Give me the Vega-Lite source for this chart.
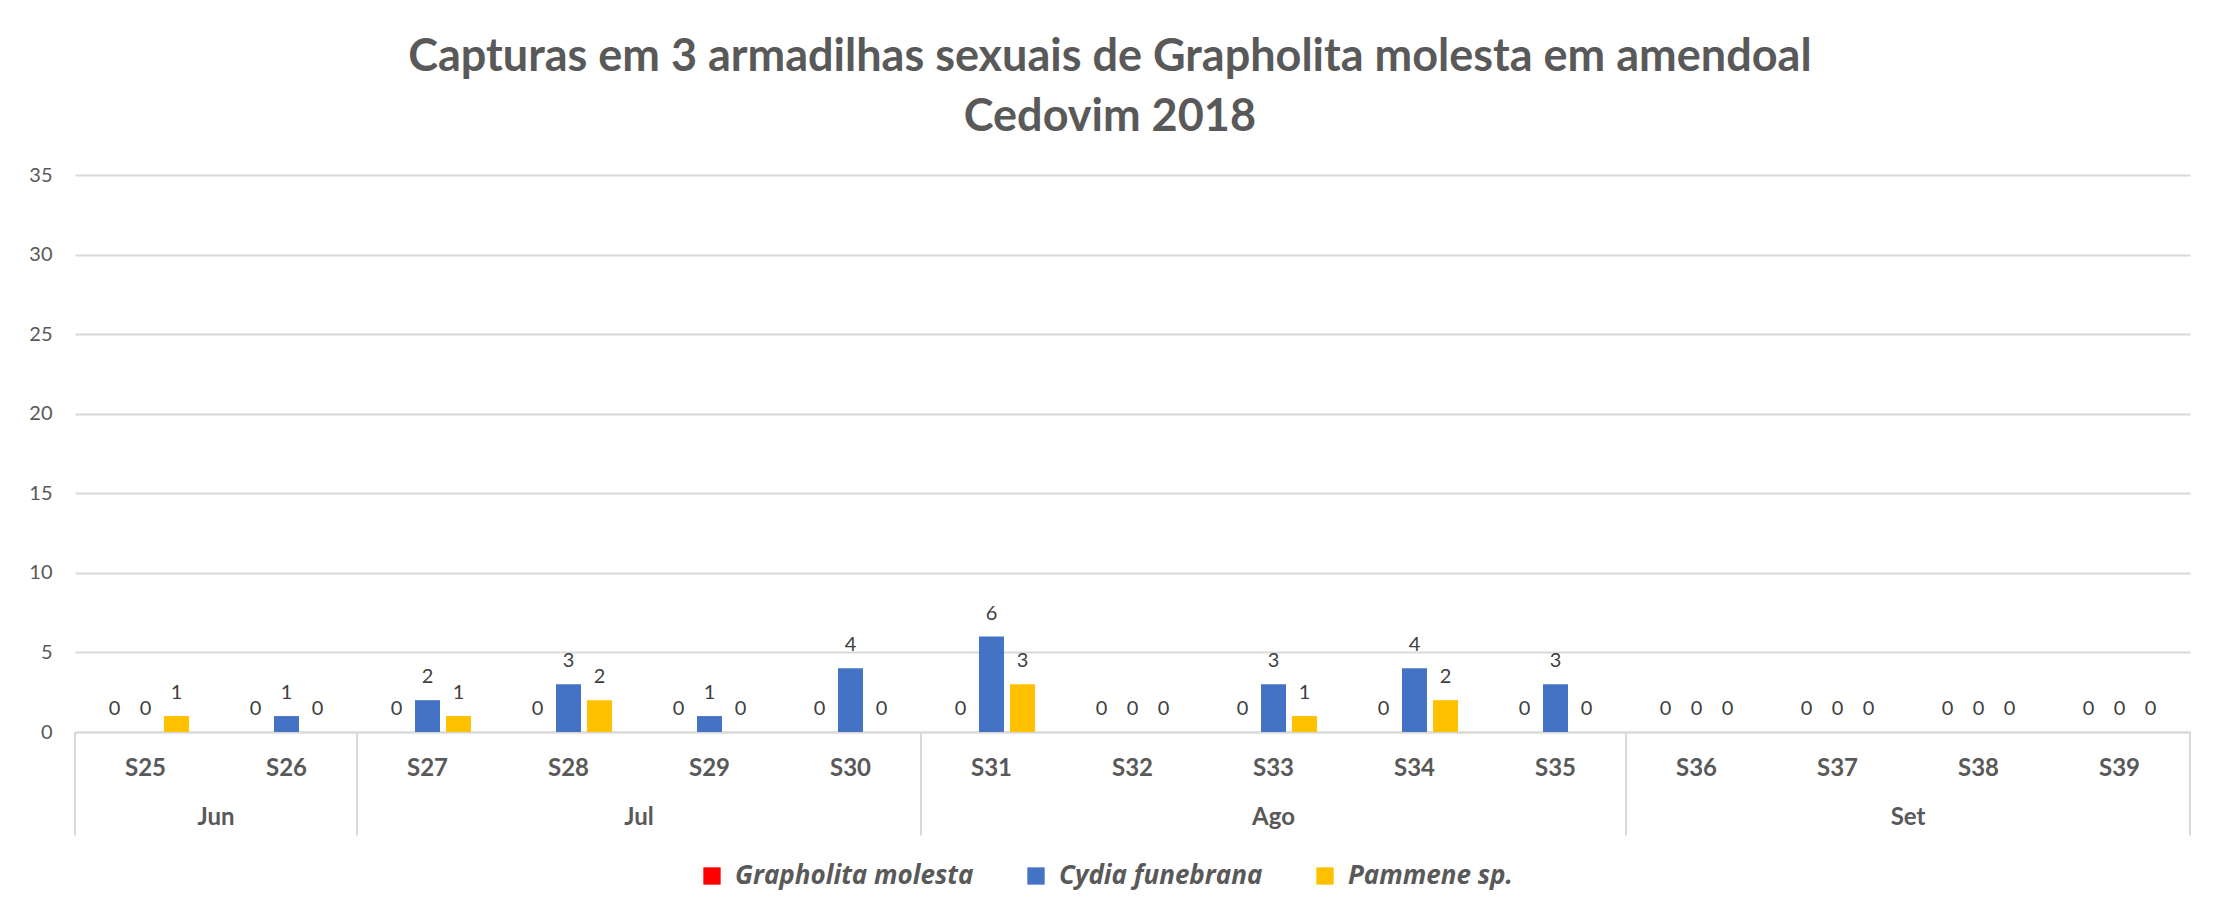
{
  "$schema": "https://vega.github.io/schema/vega-lite/v6.json",
  "autosize": {"type": "none"},
  "width": 2115,
  "height": 557,
  "padding": {"left": 75, "top": 175, "right": 41, "bottom": 181},
  "background": "white",
  "title": {
    "text": ["Capturas em 3 armadilhas sexuais de Grapholita molesta em amendoal", "Cedovim 2018"],
    "font": "Lato", "fontSize": 45, "fontWeight": "bold", "color": "#595959",
    "lineHeight": 60, "offset": 25, "anchor": "middle", "frame": "bounds"
  },
  "config": {
    "view": {"stroke": null},
    "font": "Lato"
  },
  "data": {
    "values": [
      {"week": "S25", "species": "Grapholita molesta", "n": 0}, {"week": "S25", "species": "Cydia funebrana", "n": 0}, {"week": "S25", "species": "Pammene sp.", "n": 1},
      {"week": "S26", "species": "Grapholita molesta", "n": 0}, {"week": "S26", "species": "Cydia funebrana", "n": 1}, {"week": "S26", "species": "Pammene sp.", "n": 0},
      {"week": "S27", "species": "Grapholita molesta", "n": 0}, {"week": "S27", "species": "Cydia funebrana", "n": 2}, {"week": "S27", "species": "Pammene sp.", "n": 1},
      {"week": "S28", "species": "Grapholita molesta", "n": 0}, {"week": "S28", "species": "Cydia funebrana", "n": 3}, {"week": "S28", "species": "Pammene sp.", "n": 2},
      {"week": "S29", "species": "Grapholita molesta", "n": 0}, {"week": "S29", "species": "Cydia funebrana", "n": 1}, {"week": "S29", "species": "Pammene sp.", "n": 0},
      {"week": "S30", "species": "Grapholita molesta", "n": 0}, {"week": "S30", "species": "Cydia funebrana", "n": 4}, {"week": "S30", "species": "Pammene sp.", "n": 0},
      {"week": "S31", "species": "Grapholita molesta", "n": 0}, {"week": "S31", "species": "Cydia funebrana", "n": 6}, {"week": "S31", "species": "Pammene sp.", "n": 3},
      {"week": "S32", "species": "Grapholita molesta", "n": 0}, {"week": "S32", "species": "Cydia funebrana", "n": 0}, {"week": "S32", "species": "Pammene sp.", "n": 0},
      {"week": "S33", "species": "Grapholita molesta", "n": 0}, {"week": "S33", "species": "Cydia funebrana", "n": 3}, {"week": "S33", "species": "Pammene sp.", "n": 1},
      {"week": "S34", "species": "Grapholita molesta", "n": 0}, {"week": "S34", "species": "Cydia funebrana", "n": 4}, {"week": "S34", "species": "Pammene sp.", "n": 2},
      {"week": "S35", "species": "Grapholita molesta", "n": 0}, {"week": "S35", "species": "Cydia funebrana", "n": 3}, {"week": "S35", "species": "Pammene sp.", "n": 0},
      {"week": "S36", "species": "Grapholita molesta", "n": 0}, {"week": "S36", "species": "Cydia funebrana", "n": 0}, {"week": "S36", "species": "Pammene sp.", "n": 0},
      {"week": "S37", "species": "Grapholita molesta", "n": 0}, {"week": "S37", "species": "Cydia funebrana", "n": 0}, {"week": "S37", "species": "Pammene sp.", "n": 0},
      {"week": "S38", "species": "Grapholita molesta", "n": 0}, {"week": "S38", "species": "Cydia funebrana", "n": 0}, {"week": "S38", "species": "Pammene sp.", "n": 0},
      {"week": "S39", "species": "Grapholita molesta", "n": 0}, {"week": "S39", "species": "Cydia funebrana", "n": 0}, {"week": "S39", "species": "Pammene sp.", "n": 0}
    ]
  },
  "layer": [
    {
      "mark": {"type": "bar"},
      "encoding": {
        "x": {
          "field": "week", "type": "nominal",
          "sort": ["S25","S26","S27","S28","S29","S30","S31","S32","S33","S34","S35","S36","S37","S38","S39"],
          "scale": {"paddingInner": 0, "paddingOuter": 0},
          "axis": {
            "title": null, "labelAngle": 0, "ticks": false, "labelPadding": 24,
            "labelFont": "Lato", "labelFontSize": 24, "labelFontWeight": "bold", "labelColor": "#595959",
            "domainColor": "#D9D9D9", "domainWidth": 2
          }
        },
        "xOffset": {
          "field": "species", "type": "nominal",
          "sort": ["Grapholita molesta", "Cydia funebrana", "Pammene sp."],
          "scale": {"paddingInner": 0.1935, "paddingOuter": 0.871}
        },
        "y": {
          "field": "n", "type": "quantitative",
          "scale": {"domain": [0, 35]},
          "axis": {
            "title": null, "values": [0, 5, 10, 15, 20, 25, 30, 35], "domain": false, "ticks": false,
            "labelPadding": 23, "labelFont": "Lato", "labelFontSize": 20, "labelColor": "#595959",
            "gridColor": "#D9D9D9", "gridWidth": 2
          }
        },
        "color": {
          "field": "species", "type": "nominal",
          "sort": ["Grapholita molesta", "Cydia funebrana", "Pammene sp."],
          "scale": {"domain": ["Grapholita molesta", "Cydia funebrana", "Pammene sp."], "range": ["#FF0000", "#4472C4", "#FFC000"]},
          "legend": {
            "title": null, "orient": "none", "direction": "horizontal", "legendX": 624, "legendY": 688, "padding": 0,
            "labelFont": "Open Sans", "labelFontSize": 26, "labelFontStyle": "italic", "labelFontWeight": "bold",
            "labelColor": "#595959", "labelLimit": 500, "symbolType": "square", "symbolSize": 300, "symbolStrokeWidth": 0,
            "columnPadding": 49, "labelOffset": 10
          }
        }
      }
    },
    {
      "mark": {"type": "text", "font": "Lato", "fontSize": 20, "color": "#404040", "baseline": "alphabetic", "dy": -17},
      "encoding": {
        "x": {"field": "week", "type": "nominal"},
        "xOffset": {"field": "species", "type": "nominal", "sort": ["Grapholita molesta", "Cydia funebrana", "Pammene sp."]},
        "y": {"field": "n", "type": "quantitative", "scale": {"domain": [0, 35]}},
        "text": {"field": "n", "type": "quantitative"}
      }
    },
    {
      "data": {"values": [{"week": "S26", "label": "Jun"}, {"week": "S29", "label": "Jul"}, {"week": "S38", "label": "Set"}]},
      "mark": {"type": "text", "font": "Lato", "fontSize": 24, "fontWeight": "bold", "color": "#595959", "baseline": "middle"},
      "encoding": {
        "x": {"field": "week", "type": "nominal", "bandPosition": 0},
        "y": {"datum": -5.4, "type": "quantitative", "scale": {"domain": [0, 35]}},
        "text": {"field": "label", "type": "nominal"}
      }
    },
    {
      "data": {"values": [{"week": "S33", "label": "Ago"}]},
      "mark": {"type": "text", "font": "Lato", "fontSize": 24, "fontWeight": "bold", "color": "#595959", "baseline": "middle"},
      "encoding": {
        "x": {"field": "week", "type": "nominal", "bandPosition": 0.5},
        "y": {"datum": -5.4, "type": "quantitative", "scale": {"domain": [0, 35]}},
        "text": {"field": "label", "type": "nominal"}
      }
    },
    {
      "data": {"values": [{"week": "S25"}, {"week": "S27"}, {"week": "S31"}, {"week": "S36"}]},
      "mark": {"type": "rule", "color": "#D9D9D9", "strokeWidth": 2},
      "encoding": {
        "x": {"field": "week", "type": "nominal", "bandPosition": 0},
        "y": {"datum": 0, "type": "quantitative", "scale": {"domain": [0, 35]}},
        "y2": {"datum": -6.5}
      }
    },
    {
      "data": {"values": [{"week": "S39"}]},
      "mark": {"type": "rule", "color": "#D9D9D9", "strokeWidth": 2},
      "encoding": {
        "x": {"field": "week", "type": "nominal", "bandPosition": 1},
        "y": {"datum": 0, "type": "quantitative", "scale": {"domain": [0, 35]}},
        "y2": {"datum": -6.5}
      }
    }
  ]
}
